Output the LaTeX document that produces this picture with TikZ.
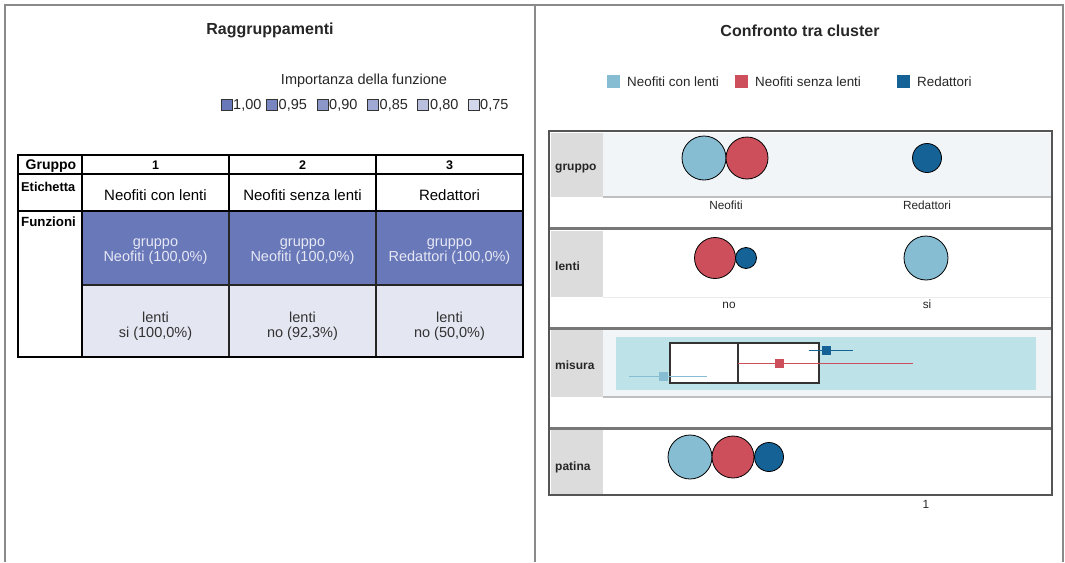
\documentclass[tikz,border=0pt]{standalone}
\usepackage{fontspec}
\setmainfont{Liberation Sans}
\definecolor{framegray}{HTML}{8A8A8A}
\definecolor{impA}{HTML}{6978B9}
\definecolor{impB}{HTML}{7885C0}
\definecolor{impC}{HTML}{8B96C9}
\definecolor{impD}{HTML}{A0A9D3}
\definecolor{impE}{HTML}{B8BFDF}
\definecolor{impF}{HTML}{D3D7EC}
\definecolor{lowcell}{HTML}{E4E6F2}
\definecolor{celltext}{HTML}{E6E8F4}
\definecolor{clA}{HTML}{87BDD3}
\definecolor{clB}{HTML}{CC4F5B}
\definecolor{clC}{HTML}{156296}
\definecolor{labgray}{HTML}{DCDCDC}
\definecolor{panelbg}{HTML}{F2F5F8}
\definecolor{rangebg}{HTML}{BDE2E8}
\definecolor{sepgray}{HTML}{777777}
\definecolor{boxgray}{HTML}{555555}
\newcommand{\fs}[1]{\fontsize{#1}{#1}\selectfont}
\begin{document}
\begin{tikzpicture}[x=1pt,y=-1pt,
  frame/.style={draw=framegray,line width=2},
  title/.style={font=\fs{16}\bfseries,text=black!85},
  legtext/.style={font=\fs{14.5},text=black!85,inner sep=0},
  impsq/.style={draw=black!80,line width=0.8,minimum size=11,inner sep=0},
  hdr/.style={font=\fs{12.5}\bfseries,inner sep=0},
  celltxt/.style={font=\fs{14.5},align=center,inner sep=0},
  clsq/.style={minimum size=13,inner sep=0},
  cltext/.style={font=\fs{13.4},text=black!85,inner sep=0,anchor=west},
  rowlab/.style={font=\fs{12}\bfseries,text=black!85,inner sep=0,anchor=base west},
  axlab/.style={font=\fs{11.8},text=black!85,inner sep=0,anchor=base},
  bubble/.style={circle,draw=black,line width=0.8,inner sep=0},
  meanmark/.style={minimum size=9,inner sep=0}
]
\useasboundingbox (0,0) rectangle (1065,562);

% outer frame and divider
\draw[frame] (5,562) -- (5,5) -- (1063,5) -- (1063,562);
\draw[frame] (535,5) -- (535,562);

% ---------------- left panel ----------------
\node[title] (tL) at (270,30.5) {Raggruppamenti};
\node[legtext] (impT) at (364,80.5) {Importanza della funzione};

\node[impsq,fill=impA] (s1) at (226.5,104.5) {};
\node[legtext,anchor=west] (l1) at (233,105) {1,00};
\node[impsq,fill=impB] (s2) at (271.8,104.5) {};
\node[legtext,anchor=west] (l2) at (278.5,105) {0,95};
\node[impsq,fill=impC] (s3) at (322.5,104.5) {};
\node[legtext,anchor=west] (l3) at (329,105) {0,90};
\node[impsq,fill=impD] (s4) at (372.8,104.5) {};
\node[legtext,anchor=west] (l4) at (379.5,105) {0,85};
\node[impsq,fill=impE] (s5) at (423.2,104.5) {};
\node[legtext,anchor=west] (l5) at (430,105) {0,80};
\node[impsq,fill=impF] (s6) at (473.5,104.5) {};
\node[legtext,anchor=west] (l6) at (480,105) {0,75};

% table cell fills
\fill[impA] (82,211) rectangle (523,285);
\fill[lowcell] (82,285) rectangle (523,357);

% header row
\node[hdr,font=\fs{14}\bfseries] (hG) at (51,166) {Gruppo};
\node[hdr] (h1) at (155.5,165) {1};
\node[hdr] (h2) at (302.5,165) {2};
\node[hdr] (h3) at (449.5,165) {3};

% label row
\node[hdr,font=\fs{12.8}\bfseries,anchor=west] (hE) at (21,187) {Etichetta};
\node[celltxt,font=\fs{15}] (e1) at (155.5,195.5) {Neofiti con lenti};
\node[celltxt,font=\fs{15}] (e2) at (302.5,195.5) {Neofiti senza lenti};
\node[celltxt,font=\fs{15}] (e3) at (449.5,195.5) {Redattori};

% feature rows
\node[hdr,font=\fs{13.3}\bfseries,anchor=west] (hF) at (21,222) {Funzioni};
\node[celltxt,text=celltext] (g1) at (155.5,252) {gruppo\\[0.5pt]Neofiti (100,0\%)};
\node[celltxt,text=celltext] (g2) at (302.5,252) {gruppo\\[0.5pt]Neofiti (100,0\%)};
\node[celltxt,text=celltext] (g3) at (449.5,252) {gruppo\\[0.5pt]Redattori (100,0\%)};
\node[celltxt,text=black!80] (n1) at (155.5,326) {lenti\\[0.5pt]si (100,0\%)};
\node[celltxt,text=black!80] (n2) at (302.5,326) {lenti\\[0.5pt]no (92,3\%)};
\node[celltxt,text=black!80] (n3) at (449.5,326) {lenti\\[0.5pt]no (50,0\%)};

% table rules
\draw[black!85,line width=1.5] (82,285) -- (523,285);
\draw[black!85,line width=1.5] (229,211) -- (229,357) (376,211) -- (376,357);
\draw[black,line width=2] (18,174) -- (523,174) (18,211) -- (523,211);
\draw[black,line width=2] (82,155) -- (82,357) (229,155) -- (229,211) (376,155) -- (376,211);
\draw[black,line width=2.8] (18,155) rectangle (523,357);

% ---------------- right panel ----------------
\node[title] (tR) at (800,30.5) {Confronto tra cluster};

\node[clsq,fill=clA] (cA) at (613.5,81) {};
\node[cltext] (tA) at (627,81.5) {Neofiti con lenti};
\node[clsq,fill=clB] (cB) at (741.5,81) {};
\node[cltext] (tB) at (755,81.5) {Neofiti senza lenti};
\node[clsq,fill=clC] (cC) at (903.5,81) {};
\node[cltext] (tC) at (917,81.5) {Redattori};

% row backgrounds
\fill[labgray] (551,133) rectangle (603,197);
\fill[labgray] (551,231) rectangle (603,297);
\fill[labgray] (551,330) rectangle (603,397);
\fill[labgray] (551,430) rectangle (603,494);
\fill[panelbg] (603,133) rectangle (1051,197);
\fill[panelbg] (603,330) rectangle (1051,397);
\draw[black!25,line width=2] (603,197) -- (1051,197) (603,397) -- (1051,397);
\draw[black!8,line width=1] (603,297) -- (1051,297);

% row separators and outer box
\draw[sepgray,line width=3] (549,228) -- (1052,228) (549,328) -- (1052,328) (549,428) -- (1052,428);
\draw[boxgray,line width=1.5] (549,131) rectangle (1052,495);

% row labels
\node[rowlab] (rg) at (555,170) {gruppo};
\node[rowlab] (rl) at (555,270.5) {lenti};
\node[rowlab] (rm) at (555,369.5) {misura};
\node[rowlab] (rp) at (555,470.5) {patina};

% gruppo
\node[bubble,fill=clA,minimum size=44] (gA) at (704,158) {};
\node[bubble,fill=clB,minimum size=42] (gB) at (747,158) {};
\node[bubble,fill=clC,minimum size=29] (gC) at (927,158) {};
\node[axlab] (aN) at (726,209.5) {Neofiti};
\node[axlab] (aR) at (927,209.5) {Redattori};

% lenti
\node[bubble,fill=clB,minimum size=41] (lB) at (715,258) {};
\node[bubble,fill=clC,minimum size=21] (lC) at (746,258) {};
\node[bubble,fill=clA,minimum size=44] (lA) at (926,258) {};
\node[axlab] (aNo) at (729,308) {no};
\node[axlab] (aSi) at (927,308) {si};

% misura
\fill[rangebg] (616,337) rectangle (1036,390);
\draw[black!80,line width=1.2,fill=white] (670,343) rectangle (819,383);
\draw[black!80,line width=1.2] (738,343) -- (738,383);
\coordinate (mCl) at (809,350); \coordinate (mCr) at (853,350);
\coordinate (mBl) at (738,363); \coordinate (mBr) at (913,363);
\coordinate (mAl) at (629,376); \coordinate (mAr) at (707,376);
\draw[clC,line width=1] (mCl) -- (mCr);
\draw[clB,line width=1] (mBl) -- (mBr);
\draw[clA,line width=1] (mAl) -- (mAr);
\node[meanmark,fill=clC] (pC) at (826,350) {};
\node[meanmark,fill=clB] (pB) at (779,363) {};
\node[meanmark,fill=clA] (pA) at (663,376) {};

% patina
\node[bubble,fill=clA,minimum size=44] (pa) at (690,457) {};
\node[bubble,fill=clB,minimum size=42] (pb) at (733,457) {};
\node[bubble,fill=clC,minimum size=29] (pc) at (769,457) {};
\node[axlab] (a1) at (926,508.5) {1};

\end{tikzpicture}
\end{document}
